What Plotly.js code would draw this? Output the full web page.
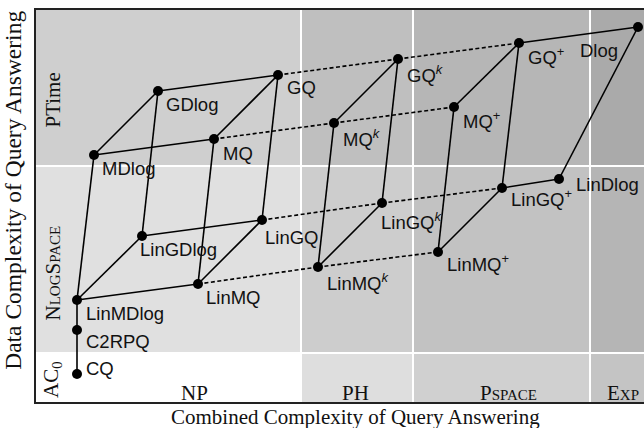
<!DOCTYPE html>
<html>
<head>
<meta charset="utf-8">
<script src="https://cdn.plot.ly/plotly-3.0.1.min.js"></script>
<style>
html,body{margin:0;padding:0;background:#fff;overflow:hidden;}
#chart{width:644px;height:428px;}
</style>
</head>
<body>
<div id="chart"></div>
<script>
// ---- data ----
// combined-complexity columns (x extents) and data-complexity rows (y extents)
const colNames = ['NP', 'PH', 'P<span style="font-size:15px">SPACE</span>', 'E<span style="font-size:15px">XP</span>'];
const colEdges = [0, 26.5, 37.7, 55.4, 62];
const rowNames = ['AC<sub>0</sub>', 'N<span style="font-size:15px">LOG</span>S<span style="font-size:15px">PACE</span>', 'PTime'];
const rowEdges = [0, 4.9, 23.6, 39.2];
// shading per cell [row][col]
const cellShade = [
  ['#ffffff', '#dedede', '#d0d0d0', '#c4c4c4'],
  ['#e0e0e0', '#cdcdcd', '#c2c2c2', '#b5b5b5'],
  ['#cfcfcf', '#bfbfbf', '#b6b6b6', '#aaaaaa']
];

// query languages
const nodeIds = ['CQ','C2RPQ','LinMDlog','MDlog','GDlog','GQ','MQ','LinGDlog','LinGQ','LinMQ',
                 'MQk','GQk','LinGQk','LinMQk','MQp','GQp','LinGQp','LinMQp','LinDlog','Dlog'];
const nodeX = [4.1, 4.1, 4.1, 5.8, 12.2, 24.2, 17.8, 10.6, 22.6, 16.2,
               29.8, 36.2, 34.6, 28.2, 41.8, 48.3, 46.6, 40.2, 52.3, 60.2];
const nodeY = [2.8, 7.2, 10.2, 24.7, 31.1, 32.7, 26.3, 16.6, 18.2, 11.8,
               27.9, 34.3, 19.9, 13.5, 29.5, 35.9, 21.4, 15.0, 22.3, 37.5];
const nodeLabels = ['CQ','C2RPQ','LinMDlog','MDlog','GDlog','GQ','MQ','LinGDlog','LinGQ','LinMQ',
                    'MQ<sup><i>k</i></sup>','GQ<sup><i>k</i></sup>','LinGQ<sup><i>k</i></sup>','LinMQ<sup><i>k</i></sup>',
                    'MQ<sup>+</sup>','GQ<sup>+</sup>','LinGQ<sup>+</sup>','LinMQ<sup>+</sup>','LinDlog','Dlog'];

const solidEdges = [
  ['CQ','C2RPQ'],['C2RPQ','LinMDlog'],['LinMDlog','MDlog'],['LinMDlog','LinMQ'],['LinMDlog','LinGDlog'],
  ['MDlog','MQ'],['MDlog','GDlog'],['GDlog','GQ'],['GDlog','LinGDlog'],['MQ','GQ'],['MQ','LinMQ'],
  ['GQ','LinGQ'],['LinGDlog','LinGQ'],['LinMQ','LinGQ'],
  ['MQk','GQk'],['MQk','LinMQk'],['GQk','LinGQk'],['LinMQk','LinGQk'],
  ['MQp','GQp'],['MQp','LinMQp'],['GQp','LinGQp'],['LinMQp','LinGQp'],
  ['GQp','Dlog'],['LinGQp','LinDlog'],['LinDlog','Dlog']
];
const dottedEdges = [
  ['GQ','GQk'],['GQk','GQp'],['MQ','MQk'],['MQk','MQp'],
  ['LinGQ','LinGQk'],['LinGQk','LinGQp'],['LinMQ','LinMQk'],['LinMQk','LinMQp']
];

const xTitle = 'Combined Complexity of Query Answering';
const yTitle = 'Data Complexity of Query Answering';

// ---- styling (label placement, pixel offsets) ----
const labelStyle = {
  CQ:{dx:7,dy:6}, C2RPQ:{dx:7,dy:-11}, LinMDlog:{dx:7,dy:-13}, MDlog:{dx:6,dy:-13},
  GDlog:{dx:6,dy:-13}, GQ:{dx:7,dy:-12}, MQ:{dx:7,dy:-14}, LinGDlog:{dx:-4,dy:-13},
  LinGQ:{dx:1,dy:-17}, LinMQ:{dx:6,dy:-13}, MQk:{dx:7,dy:-15}, GQk:{dx:7,dy:-15},
  LinGQk:{dx:-3,dy:-18}, LinMQk:{dx:7,dy:-15}, MQp:{dx:7,dy:-13}, GQp:{dx:7,dy:-13},
  LinGQp:{dx:7,dy:-10}, LinMQp:{dx:7,dy:-11}, LinDlog:{dx:15,dy:-5}, Dlog:{dx:-18,dy:-23,anchor:'right'}
};
const colLabelX = [15.8, 31.95, 47.2, 58.65];
const rowLabelY = [2.2, 12.85, 30.15];

const SANS = 'Liberation Sans, Arial, sans-serif';
const SERIF = 'Liberation Serif, Times New Roman, serif';

// ---- build ----
const idx = {};
nodeIds.forEach((id, i) => idx[id] = i);
function edgeXY(list) {
  const xs = [], ys = [];
  list.forEach(([a, b]) => {
    xs.push(nodeX[idx[a]], nodeX[idx[b]], null);
    ys.push(nodeY[idx[a]], nodeY[idx[b]], null);
  });
  return {xs, ys};
}
const se = edgeXY(solidEdges), de = edgeXY(dottedEdges);

const traces = [
  {x: de.xs, y: de.ys, mode: 'lines', line: {color: '#000', width: 1.6, dash: '4px,2.5px'}, hoverinfo: 'skip', cliponaxis: false},
  {x: se.xs, y: se.ys, mode: 'lines', line: {color: '#000', width: 1.6}, hoverinfo: 'skip', cliponaxis: false},
  {x: nodeX, y: nodeY, mode: 'markers', marker: {color: '#000', size: 10}, hoverinfo: 'skip', cliponaxis: false}
];

const shapes = [];
for (let r = 0; r < rowNames.length; r++) {
  for (let c = 0; c < colNames.length; c++) {
    shapes.push({type: 'rect', layer: 'below', xref: 'x', yref: 'y',
      x0: colEdges[c], x1: colEdges[c + 1], y0: rowEdges[r], y1: rowEdges[r + 1],
      fillcolor: cellShade[r][c], line: {width: 0}});
  }
}
for (let c = 1; c < colEdges.length - 1; c++) {
  shapes.push({type: 'line', layer: 'below', xref: 'x', yref: 'y',
    x0: colEdges[c], x1: colEdges[c], y0: rowEdges[0], y1: rowEdges[rowEdges.length - 1],
    line: {color: '#fff', width: 2}});
}
for (let r = 1; r < rowEdges.length - 1; r++) {
  shapes.push({type: 'line', layer: 'below', xref: 'x', yref: 'y',
    x0: colEdges[0], x1: colEdges[colEdges.length - 1], y0: rowEdges[r], y1: rowEdges[r],
    line: {color: '#fff', width: 2}});
}

const annotations = [];
nodeIds.forEach((id, i) => {
  const st = labelStyle[id];
  annotations.push({x: nodeX[i], y: nodeY[i], xref: 'x', yref: 'y', text: nodeLabels[i],
    showarrow: false, xanchor: st.anchor || 'left', yanchor: 'middle', xshift: st.dx, yshift: st.dy,
    font: {family: SANS, size: 18.5, color: '#111'}});
});
colNames.forEach((t, i) => {
  annotations.push({x: colLabelX[i], y: 0.95, xref: 'x', yref: 'y', text: t, showarrow: false,
    xanchor: 'center', yanchor: 'middle', font: {family: SERIF, size: 21, color: '#111'}});
});
rowNames.forEach((t, i) => {
  annotations.push({x: 1.6, y: rowLabelY[i], xref: 'x', yref: 'y', text: t, showarrow: false,
    textangle: -90, xanchor: 'center', yanchor: 'middle', font: {family: SERIF, size: 21, color: '#111'}});
});
annotations.push({x: 0.526, y: -0.039, xref: 'paper', yref: 'paper', text: xTitle, showarrow: false,
  xanchor: 'center', yanchor: 'middle', font: {family: SERIF, size: 21, color: '#111'}});
annotations.push({x: -0.038, y: 0.541, xref: 'paper', yref: 'paper', text: yTitle, showarrow: false, textangle: -90,
  xanchor: 'center', yanchor: 'middle', font: {family: SERIF, size: 23.5, color: '#111'}});

const layout = {
  width: 644, height: 428,
  margin: {l: 36, r: 0, t: 10, b: 26, pad: 0},
  paper_bgcolor: '#fff', plot_bgcolor: '#fff',
  showlegend: false,
  xaxis: {range: [0, 60.8], showgrid: false, zeroline: false, showticklabels: false, ticks: '',
          showline: true, mirror: true, linecolor: '#222', linewidth: 2, fixedrange: true},
  yaxis: {range: [0, 39.2], showgrid: false, zeroline: false, showticklabels: false, ticks: '',
          showline: true, mirror: false, linecolor: '#222', linewidth: 2, fixedrange: true},
  shapes, annotations
};

Plotly.newPlot('chart', traces, layout, {displayModeBar: false, staticPlot: true});
</script>
</body>
</html>
